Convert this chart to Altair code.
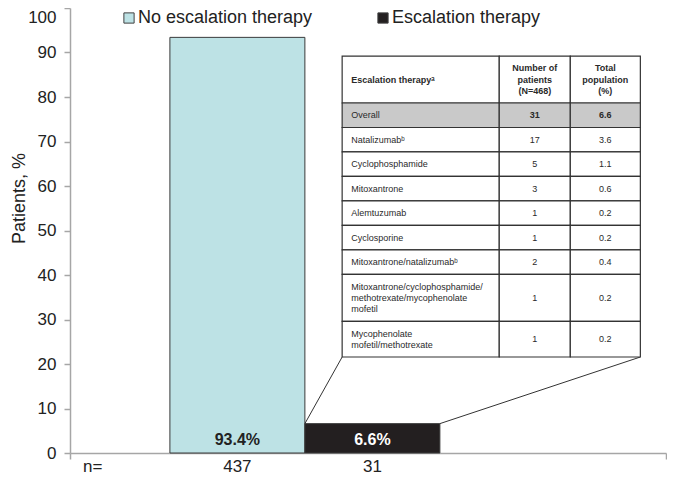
import altair as alt
import pandas as pd

FONT = "Liberation Sans"

# ---------------- data ----------------
categories = ["No escalation therapy", "Escalation therapy"]
percent = [93.4, 6.6]
n_patients = [437, 31]
bar_labels = ["93.4%", "6.6%"]
bar_colors = ["#bde2e5", "#231f20"]
label_colors = ["#222222", "#ffffff"]

table_header = ["Escalation therapyᵃ", "Number of\npatients\n(N=468)", "Total\npopulation\n(%)"]
therapies = [
    "Overall",
    "Natalizumabᵇ",
    "Cyclophosphamide",
    "Mitoxantrone",
    "Alemtuzumab",
    "Cyclosporine",
    "Mitoxantrone/natalizumabᵇ",
    "Mitoxantrone/cyclophosphamide/\nmethotrexate/mycophenolate\nmofetil",
    "Mycophenolate\nmofetil/methotrexate",
]
therapy_n = ["31", "17", "5", "3", "1", "1", "2", "1", "1"]
therapy_pct = ["6.6", "3.6", "1.1", "0.6", "0.2", "0.2", "0.4", "0.2", "0.2"]

# ---------------- layout constants (scale units) ----------------
X_MAX = 4.415         # x domain in bar-width units
BAR_START = 0.74
TABLE_X = (2.016, 4.225)
TABLE_Y = (89.2, 21.57)
COL_RATIO = [157, 71, 70]
ROW_PAD = 1.18

# bars
bars = pd.DataFrame({
    "category": categories,
    "percent": percent,
    "n": [str(v) for v in n_patients],
    "label": bar_labels,
    "lcolor": label_colors,
})
bars["x"] = [BAR_START + i for i in range(len(bars))]
bars["x2"] = bars["x"] + 1
bars["xc"] = bars["x"] + 0.5
bars["zero"] = 0

# table cells
rows = [table_header] + [[t, n, p] for t, n, p in zip(therapies, therapy_n, therapy_pct)]
row_lines = [max(c.count("\n") + 1 for c in r) for r in rows]
row_units = [ROW_PAD + l for l in row_lines]
tot_units = sum(row_units)
unit = (TABLE_Y[0] - TABLE_Y[1]) / tot_units
col_tot = sum(COL_RATIO)
cells = []
ytop = TABLE_Y[0]
for ri, r in enumerate(rows):
    h = row_units[ri] * unit
    xl = TABLE_X[0]
    for ci, txt in enumerate(r):
        w = COL_RATIO[ci] / col_tot * (TABLE_X[1] - TABLE_X[0])
        bold = (ri == 0) or (ri == 1 and ci > 0)
        nl = txt.count("\n") + 1
        cells.append({
            "x": xl, "x2": xl + w, "y": ytop, "y2": ytop - h,
            "xc": xl + w / 2, "yt": ytop - h / 2 + (nl - 1) / 2 * unit,
            "text": txt,
            "bold": bold,
            "align": "left" if ci == 0 else "center",
            "fill": "#c9c9c9" if ri == 1 else "#ffffff",
        })
        xl += w
    ytop -= h
cells = pd.DataFrame(cells)

# connectors from table bottom corners to top corners of escalation bar
esc = bars.iloc[1]
conn = pd.DataFrame({
    "x": [TABLE_X[0], TABLE_X[1]],
    "y": [TABLE_Y[1], TABLE_Y[1]],
    "x2": [esc["x"], esc["x2"]],
    "y2": [esc["percent"], esc["percent"]],
})

n_row = pd.DataFrame({"x": [0.0], "y": [0], "text": ["n="]})

# ---------------- scales / axes ----------------
xscale = alt.Scale(domain=[0, X_MAX], nice=False, zero=False)
yscale = alt.Scale(domain=[0, 100], nice=False)
GRAY = "#a6a6a6"

x_axis = alt.Axis(values=[0, X_MAX], labels=False, tickSize=6, tickColor=GRAY,
                  tickWidth=1.5, domainColor=GRAY, domainWidth=1.5, grid=False, title=None)
y_axis = alt.Axis(values=list(range(0, 101, 10)), tickSize=6, tickColor=GRAY, tickWidth=1.5,
                  domainColor=GRAY, domainWidth=1.5, grid=False,
                  labelFontSize=17, labelFont=FONT, labelColor="#222222", labelPadding=8,
                  labelOffset={"condition": {"test": "datum.value == 100", "value": 9}, "value": 0},
                  title="Patients, %", titleFontSize=18, titleFont=FONT, titleFontWeight="normal",
                  titleColor="#222222", titleX=-46, titleY=190, titleAngle=-90,
                  titleBaseline="alphabetic", titleAlign="center")


def X(field):
    return alt.X(field, scale=xscale, axis=x_axis)


def Y(field):
    return alt.Y(field, scale=yscale, axis=y_axis)


bar_layer = alt.Chart(bars).mark_bar(stroke="#3a3a3a", strokeWidth=1).encode(
    x=X("x:Q"),
    x2="x2:Q",
    y=Y("percent:Q"),
    y2="zero:Q",
    color=alt.Color("category:N", scale=alt.Scale(domain=categories, range=bar_colors),
                    legend=alt.Legend(orient="none", legendX=50, legendY=1, direction="horizontal",
                                      title=None, symbolType="square", symbolSize=105,
                                      symbolStrokeColor="#404040", symbolStrokeWidth=1,
                                      labelFontSize=18, labelFont=FONT, labelColor="#222222",
                                      labelLimit=400, columnPadding=61, labelOffset=0,
                                      padding=0)),
)

bar_text = alt.Chart(bars).mark_text(font=FONT, fontSize=16, fontWeight="bold", dy=-13,
                                     baseline="middle").encode(
    x=X("xc:Q"),
    y=Y("zero:Q"),
    text="label:N",
    color=alt.Color("lcolor:N", scale=None),
)

n_text = alt.Chart(bars).mark_text(font=FONT, fontSize=17, dy=14, color="#222222",
                                   baseline="middle").encode(
    x=X("xc:Q"),
    y=Y("zero:Q"),
    text="n:N",
)

n_eq = alt.Chart(n_row).mark_text(font=FONT, fontSize=17, dy=14, dx=13, align="left",
                                  color="#222222", baseline="middle").encode(
    x=X("x:Q"),
    y=Y("y:Q"),
    text="text:N",
)

connectors = alt.Chart(conn).mark_rule(color="#333333", strokeWidth=1).encode(
    x=X("x:Q"),
    y=Y("y:Q"),
    x2="x2:Q",
    y2="y2:Q",
)

cell_rect = alt.Chart(cells).mark_rect(stroke="#333333", strokeWidth=1.2).encode(
    x=X("x:Q"),
    x2="x2:Q",
    y=Y("y:Q"),
    y2="y2:Q",
    fill=alt.Fill("fill:N", scale=None),
)


def cell_text(align, bold):
    kw = dict(font=FONT, fontSize=9, align=align, baseline="middle", lineBreak="\n",
              lineHeight=11.3, fontWeight="bold" if bold else "normal", color="#2a2a2a")
    if align == "left":
        mk = alt.Chart(cells).mark_text(dx=9, **kw)
        xenc = X("x:Q")
    else:
        mk = alt.Chart(cells).mark_text(**kw)
        xenc = X("xc:Q")
    return mk.encode(
        x=xenc,
        y=Y("yt:Q"),
        text="text:N",
    ).transform_filter(
        f"datum.align == '{align}' && datum.bold == {'true' if bold else 'false'}"
    )


chart = alt.layer(
    bar_layer, bar_text, n_text, n_eq, connectors, cell_rect,
    cell_text("left", False), cell_text("left", True),
    cell_text("center", False), cell_text("center", True),
).properties(
    width=596, height=445,
    autosize=alt.AutoSizeParams(type="none"),
    padding={"left": 62, "top": 0, "right": 1, "bottom": 22},
).configure_view(stroke=None)

chart.save("out.html", embed_options={"renderer": "svg", "actions": False})
